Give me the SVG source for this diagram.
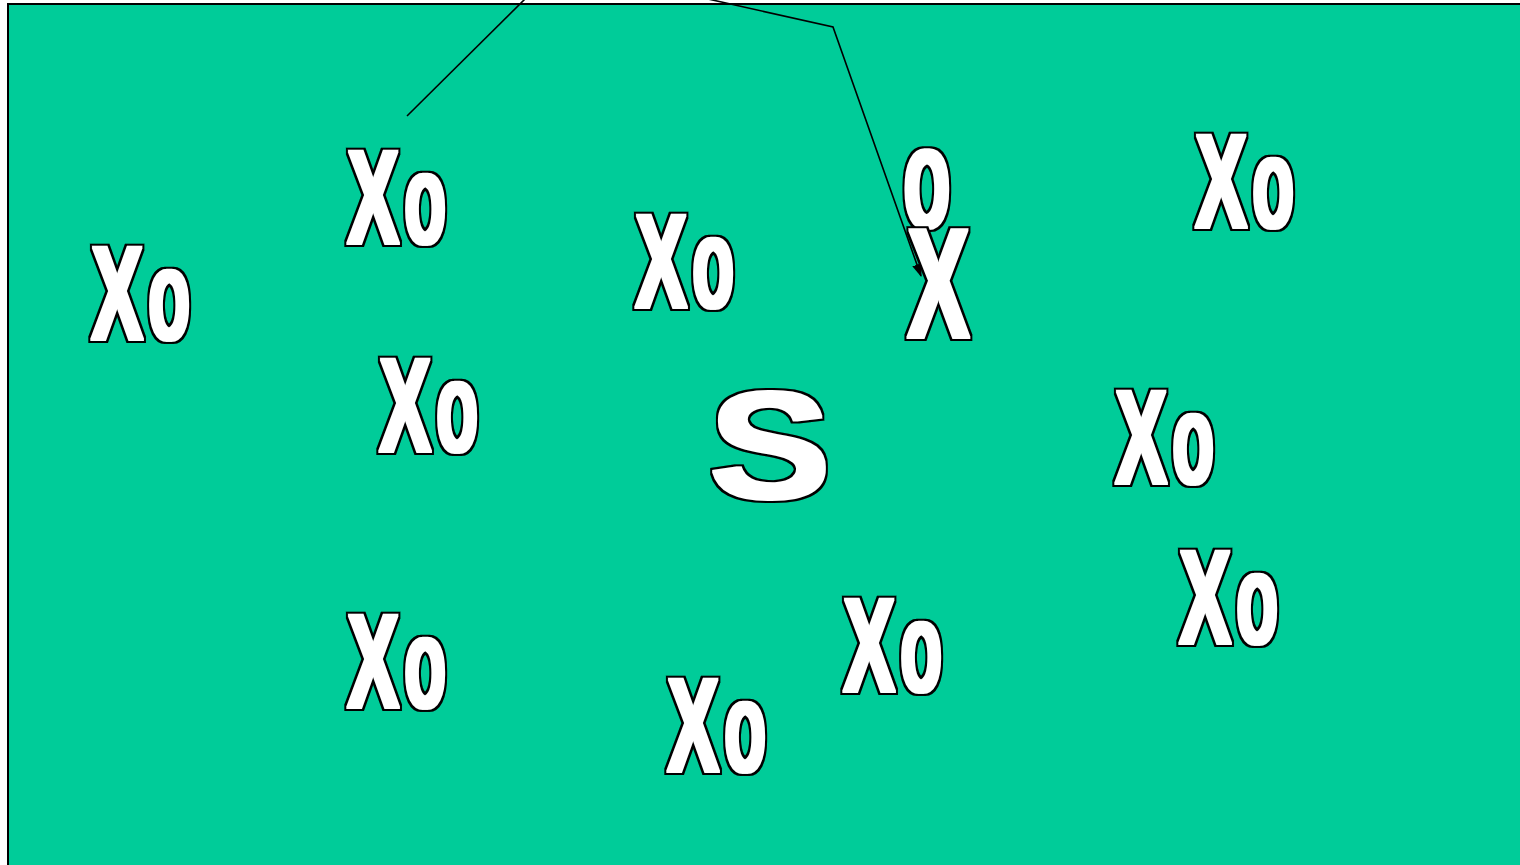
<svg xmlns="http://www.w3.org/2000/svg" width="1520" height="865" viewBox="0 0 1520 865">
<defs>
<style>
.t{font-family:"Liberation Sans",Arial,sans-serif;font-weight:bold;fill:#fff;stroke:none}
.x{font-size:130px}
.X{font-size:135px}
.c{fill:none;stroke:#000;stroke-width:1.6}
</style>
<filter id="fat" x="-15%" y="-15%" width="130%" height="130%" color-interpolation-filters="sRGB">
<feMorphology in="SourceAlpha" operator="dilate" radius="3.5 2.5" result="ol"/>
<feMorphology in="SourceAlpha" operator="dilate" radius="2 1" result="wh"/>
<feFlood flood-color="#000"/>
<feComposite in2="ol" operator="in" result="olb"/>
<feFlood flood-color="#fff"/>
<feComposite in2="wh" operator="in" result="whf"/>
<feMerge><feMergeNode in="olb"/><feMergeNode in="whf"/></feMerge>
</filter>
<marker id="ah" markerWidth="13" markerHeight="10" refX="12" refY="5" orient="auto" markerUnits="userSpaceOnUse" viewBox="0 0 13 10">
<path d="M0,0 L13,5 L0,10 z" fill="#000"/>
</marker>
</defs>
<rect x="8" y="4" width="1530" height="880" fill="#00CC99" stroke="#000" stroke-width="2"/>
<g id="connectors">
<line class="c" x1="407" y1="116" x2="526" y2="-2"/>
<polyline class="c" points="708,-1 833,27 921,276" marker-end="url(#ah)"/>
</g>
<g id="n1" filter="url(#fat)" transform="translate(91.5,339.5)"><text class="t X" transform="scale(0.57,1)">X</text><text class="t x" transform="translate(57,0) scale(0.52,1)">o</text></g>
<g id="n2" filter="url(#fat)" transform="translate(347.5,243.5)"><text class="t X" transform="scale(0.57,1)">X</text><text class="t x" transform="translate(57,0) scale(0.52,1)">o</text></g>
<g id="n3" filter="url(#fat)" transform="translate(635.5,307.5)"><text class="t X" transform="scale(0.57,1)">X</text><text class="t x" transform="translate(57,0) scale(0.52,1)">o</text></g>
<g id="n4" filter="url(#fat)" transform="translate(379.5,451.5)"><text class="t X" transform="scale(0.57,1)">X</text><text class="t x" transform="translate(57,0) scale(0.52,1)">o</text></g>
<g id="n5" filter="url(#fat)" transform="translate(1195.5,227.5)"><text class="t X" transform="scale(0.57,1)">X</text><text class="t x" transform="translate(57,0) scale(0.52,1)">o</text></g>
<g id="n6" filter="url(#fat)" transform="translate(1115.5,483.5)"><text class="t X" transform="scale(0.57,1)">X</text><text class="t x" transform="translate(57,0) scale(0.52,1)">o</text></g>
<g id="n7" filter="url(#fat)" transform="translate(1179.5,643.5)"><text class="t X" transform="scale(0.57,1)">X</text><text class="t x" transform="translate(57,0) scale(0.52,1)">o</text></g>
<g id="n8" filter="url(#fat)" transform="translate(347.5,707.5)"><text class="t X" transform="scale(0.57,1)">X</text><text class="t x" transform="translate(57,0) scale(0.52,1)">o</text></g>
<g id="n9" filter="url(#fat)" transform="translate(843.5,691.5)"><text class="t X" transform="scale(0.57,1)">X</text><text class="t x" transform="translate(57,0) scale(0.52,1)">o</text></g>
<g id="n10" filter="url(#fat)" transform="translate(667.5,771.5)"><text class="t X" transform="scale(0.57,1)">X</text><text class="t x" transform="translate(57,0) scale(0.52,1)">o</text></g>
<g id="n11" filter="url(#fat)" transform="translate(903.5,227.8)"><text class="t" font-size="145" transform="scale(0.527,1)">o</text></g>
<g id="n12" filter="url(#fat)" transform="translate(907.5,337.5)"><text class="t" font-size="157" transform="scale(0.59,1)">X</text></g>
<g id="n13" filter="url(#fat)" transform="translate(708.8,498.7)"><text class="t" font-size="154" transform="scale(1.19,1)">S</text></g>
</svg>
